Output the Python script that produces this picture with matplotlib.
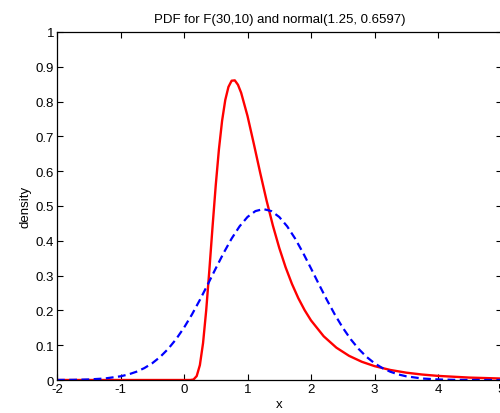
import numpy as np
import matplotlib
matplotlib.use("Agg")
import matplotlib.pyplot as plt

plt.rcParams['font.family'] = ['Liberation Sans', 'DejaVu Sans']
plt.rcParams['font.size'] = 9.5
plt.rcParams['axes.unicode_minus'] = False

# F(30,10) density
x_f = [-2.0, 0.0, 0.1, 0.15, 0.2, 0.25, 0.3, 0.35, 0.4, 0.45, 0.5, 0.55, 0.6, 0.65,
       0.7, 0.75, 0.8, 0.85, 0.9, 1.0, 1.1, 1.2, 1.3, 1.4, 1.5, 1.6, 1.7, 1.8, 1.9,
       2.0, 2.2, 2.4, 2.6, 2.8, 3.0, 3.25, 3.5, 3.75, 4.0, 4.5, 5.0]
y_f = [0.0, 0.0, 0.00004, 0.0014, 0.0113, 0.0428, 0.1061, 0.2010, 0.3175, 0.4415,
       0.5598, 0.6629, 0.7451, 0.8047, 0.8422, 0.8600, 0.8610, 0.8483, 0.8253,
       0.7588, 0.6783, 0.5953, 0.5159, 0.4436, 0.3796, 0.3239, 0.2761, 0.2352,
       0.2006, 0.1713, 0.1256, 0.0929, 0.0694, 0.0524, 0.0399, 0.0288, 0.0211,
       0.0157, 0.0118, 0.0069, 0.0042]

# normal(1.25, 0.6597) density
x_n = [-2.0, -1.75, -1.5, -1.25, -1.0, -0.875, -0.75, -0.625, -0.5, -0.375, -0.25,
       -0.125, 0.0, 0.125, 0.25, 0.375, 0.5, 0.625, 0.75, 0.875, 1.0, 1.125, 1.25,
       1.375, 1.5, 1.625, 1.75, 1.875, 2.0, 2.125, 2.25, 2.375, 2.5, 2.625, 2.75,
       2.875, 3.0, 3.125, 3.25, 3.375, 3.5, 3.75, 4.0, 4.25, 4.5, 4.75, 5.0]
y_n = [0.0002, 0.0005, 0.0016, 0.0043, 0.0106, 0.0160, 0.0237, 0.0342, 0.0482,
       0.0664, 0.0893, 0.1172, 0.1503, 0.1882, 0.2302, 0.2749, 0.3207, 0.3653,
       0.4064, 0.4415, 0.4685, 0.4854, 0.4912, 0.4854, 0.4685, 0.4415, 0.4064,
       0.3653, 0.3207, 0.2749, 0.2302, 0.1882, 0.1503, 0.1172, 0.0893, 0.0664,
       0.0482, 0.0342, 0.0237, 0.0160, 0.0106, 0.0043, 0.0016, 0.0005, 0.0002,
       0.00004, 0.00001]

fig = plt.figure(figsize=(5.0, 4.14), dpi=100)
ax = fig.add_axes([0.114, 0.0797, 0.889, 0.8406])

ax.plot(x_f, y_f, color='red', lw=1.7)
ax.plot(x_n, y_n, color='blue', lw=1.6, linestyle=(0, (3.5, 2)))

ax.set_xlim(-2, 5)
ax.set_ylim(0, 1)
ax.set_xticks(range(-2, 6))
ax.set_yticks(np.arange(0, 1.01, 0.1))
ax.set_yticklabels(['0', '0.1', '0.2', '0.3', '0.4', '0.5', '0.6', '0.7', '0.8', '0.9', '1'])
ax.tick_params(direction='in', top=True, right=True, length=4, width=0.8, pad=2)
for s in ax.spines.values():
    s.set_linewidth(0.9)

ax.set_title("PDF for F(30,10) and normal(1.25, 0.6597)", pad=7, fontsize=9.5)
ax.set_xlabel("x", labelpad=2)
ax.set_ylabel("density", labelpad=3)

fig.savefig("out.png", dpi=100)
